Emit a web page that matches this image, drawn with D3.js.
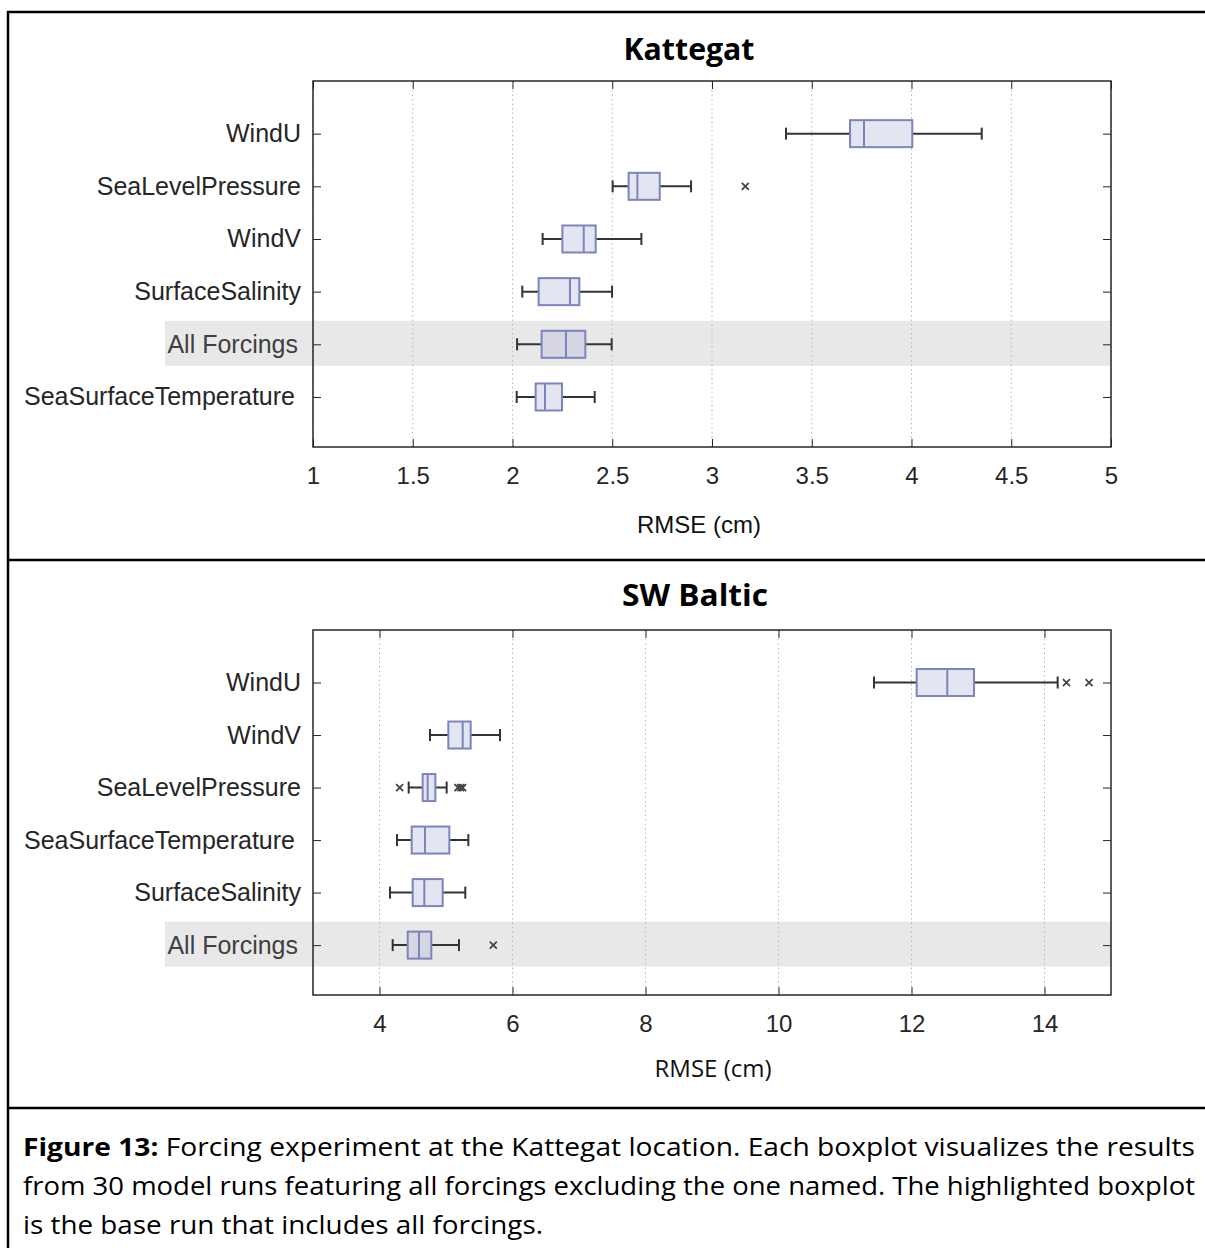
<!DOCTYPE html>
<html>
<head>
<meta charset="utf-8">
<script src="https://cdn.jsdelivr.net/npm/d3@7"></script>
<style>
  body { margin: 0; background: #fff; }
  svg { display: block; }
</style>
</head>
<body>
<svg id="fig"></svg>
<script>
// Kattegat panel
var katCategories = ["WindU", "SeaLevelPressure", "WindV", "SurfaceSalinity", "All Forcings", "SeaSurfaceTemperature"];
var katLow    = [3.371, 2.502, 2.151, 2.049, 2.023, 2.021];
var katQ1     = [3.692, 2.582, 2.250, 2.131, 2.146, 2.116];
var katMedian = [3.762, 2.626, 2.357, 2.288, 2.268, 2.163];
var katQ3     = [4.004, 2.738, 2.417, 2.335, 2.365, 2.248];
var katHigh   = [4.352, 2.895, 2.646, 2.499, 2.497, 2.412];
var katOutliers = [[], [3.167], [], [], [], []];
var katTicks = [1, 1.5, 2, 2.5, 3, 3.5, 4, 4.5, 5];

// SW Baltic panel
var swbCategories = ["WindU", "WindV", "SeaLevelPressure", "SeaSurfaceTemperature", "SurfaceSalinity", "All Forcings"];
var swbLow    = [11.436, 4.759, 4.439, 4.263, 4.158, 4.198];
var swbQ1     = [12.078, 5.035, 4.649, 4.484, 4.499, 4.424];
var swbMedian = [12.538, 5.251, 4.724, 4.684, 4.674, 4.594];
var swbQ3     = [12.940, 5.371, 4.840, 5.050, 4.950, 4.779];
var swbHigh   = [14.198, 5.812, 5.010, 5.336, 5.290, 5.195];
var swbOutliers = [[14.33, 14.67], [], [4.303, 5.18, 5.22, 5.25], [], [], [5.711]];
var swbTicks = [4, 6, 8, 10, 12, 14];

var highlight = "All Forcings";

var W = 1205, H = 1248;
var svg = d3.select("#fig").attr("width", W).attr("height", H);

// figure frame
svg.append("line").attr("x1", 8).attr("x2", 8).attr("y1", 11).attr("y2", H)
    .attr("stroke", "#000").attr("stroke-width", 2.5);
[12, 560, 1108].forEach(function (y) {
    svg.append("line").attr("x1", 7).attr("x2", W).attr("y1", y).attr("y2", y)
        .attr("stroke", "#000").attr("stroke-width", 2.5);
});

function drawPanel(opt) {
    var left = 313, right = 1111;
    var top = opt.top, bottom = opt.bottom;

    var x = d3.scaleLinear().domain(opt.domain).range([left, right]);
    var y = d3.scaleLinear().domain([0, 6.95]).range([top, bottom]);
    var g = svg.append("g");

    // highlight band
    var hi = opt.categories.indexOf(highlight);
    g.append("rect")
        .attr("x", 165).attr("width", right - 165)
        .attr("y", y(hi + 1) - 23.5).attr("height", 45)
        .attr("fill", "#e8e8e8");

    // dotted grid
    g.selectAll(".grid").data(opt.ticks).enter().append("line")
        .attr("x1", function (d) { return x(d); })
        .attr("x2", function (d) { return x(d); })
        .attr("y1", top).attr("y2", bottom)
        .attr("stroke", "#b8b8b8").attr("stroke-width", 1)
        .attr("stroke-dasharray", "1.5,3");

    // axes via d3.axis, ticks inward
    var xAxis = g.append("g").attr("transform", "translate(0," + bottom + ")")
        .call(d3.axisBottom(x).tickValues(opt.ticks).tickSizeInner(-8).tickSizeOuter(0).tickPadding(20)
            .tickFormat(d3.format("")));
    xAxis.select(".domain").remove();
    xAxis.selectAll("line").attr("stroke", "#262626");
    xAxis.selectAll("text").attr("font-family", "Liberation Sans, Arial, sans-serif")
        .attr("font-size", 24).attr("fill", "#262626");

    var xTop = g.append("g").attr("transform", "translate(0," + top + ")")
        .call(d3.axisTop(x).tickValues(opt.ticks).tickSizeInner(-8).tickSizeOuter(0).tickFormat(""));
    xTop.select(".domain").remove();
    xTop.selectAll("line").attr("stroke", "#262626");

    var cats = opt.categories.map(function (c, i) { return i + 1; });
    var yAxis = g.append("g").attr("transform", "translate(" + left + ",0)")
        .call(d3.axisLeft(y).tickValues(cats).tickSizeInner(-8).tickSizeOuter(0).tickPadding(12)
            .tickFormat(function (d) { return opt.categories[d - 1]; }));
    yAxis.select(".domain").remove();
    yAxis.selectAll("line").attr("stroke", "#262626");
    yAxis.selectAll("text").attr("font-family", "Liberation Sans, Arial, sans-serif")
        .attr("font-size", 25)
        .attr("dx", function (d) {
            var c = opt.categories[d - 1];
            return c === "All Forcings" ? -3 : (c === "SeaSurfaceTemperature" ? -6 : 0);
        })
        .attr("fill", function (d) { return opt.categories[d - 1] === highlight ? "#404040" : "#262626"; });

    var yRight = g.append("g").attr("transform", "translate(" + right + ",0)")
        .call(d3.axisRight(y).tickValues(cats).tickSizeInner(-8).tickSizeOuter(0).tickFormat(""));
    yRight.select(".domain").remove();
    yRight.selectAll("line").attr("stroke", "#262626");

    // frame
    g.append("rect").attr("x", left).attr("y", top)
        .attr("width", right - left).attr("height", bottom - top)
        .attr("fill", "none").attr("stroke", "#262626").attr("stroke-width", 1.5);

    // boxes
    var rows = opt.categories.map(function (c, i) {
        return { cat: c, i: i, low: opt.low[i], q1: opt.q1[i], med: opt.median[i],
                 q3: opt.q3[i], high: opt.high[i], out: opt.outliers[i] };
    });
    var bh = 27, cap = 6;
    var box = g.selectAll(".box").data(rows).enter().append("g")
        .attr("transform", function (d) { return "translate(0," + y(d.i + 1) + ")"; });

    box.append("line")
        .attr("x1", function (d) { return x(d.low); })
        .attr("x2", function (d) { return x(d.high); })
        .attr("stroke", "#333").attr("stroke-width", 2);
    box.append("line")
        .attr("x1", function (d) { return x(d.low); }).attr("x2", function (d) { return x(d.low); })
        .attr("y1", -cap).attr("y2", cap).attr("stroke", "#333").attr("stroke-width", 2);
    box.append("line")
        .attr("x1", function (d) { return x(d.high); }).attr("x2", function (d) { return x(d.high); })
        .attr("y1", -cap).attr("y2", cap).attr("stroke", "#333").attr("stroke-width", 2);
    box.append("rect")
        .attr("x", function (d) { return x(d.q1); })
        .attr("width", function (d) { return x(d.q3) - x(d.q1); })
        .attr("y", -bh / 2).attr("height", bh)
        .attr("fill", function (d) { return d.cat === highlight ? "#d5d6e1" : "#e3e5f0"; })
        .attr("stroke", "#7c84bd").attr("stroke-width", 2);
    box.append("line")
        .attr("x1", function (d) { return x(d.med); }).attr("x2", function (d) { return x(d.med); })
        .attr("y1", -bh / 2).attr("y2", bh / 2)
        .attr("stroke", "#7c84bd").attr("stroke-width", 2);

    box.each(function (d) {
        var sel = d3.select(this);
        d.out.forEach(function (v) {
            var cx = x(v), s = 3.5;
            sel.append("path")
                .attr("d", "M" + (cx - s) + "," + (-s) + "L" + (cx + s) + "," + s +
                           "M" + (cx - s) + "," + s + "L" + (cx + s) + "," + (-s))
                .attr("stroke", "#444").attr("stroke-width", 1.8);
        });
    });

    // title and x label
    svg.append("text").attr("x", opt.titleX).attr("y", opt.titleY)
        .attr("text-anchor", "middle")
        .attr("font-family", "Open Sans, sans-serif").attr("font-weight", "bold")
        .attr("font-size", 30).attr("fill", "#000")
        .attr("textLength", opt.titleLen).attr("lengthAdjust", "spacingAndGlyphs")
        .text(opt.title);
    svg.append("text").attr("x", opt.labelX).attr("y", opt.labelY)
        .attr("text-anchor", "middle")
        .attr("font-family", opt.labelFont).attr("font-size", 24).attr("fill", "#111")
        .text("RMSE (cm)");
}

drawPanel({
    top: 81, bottom: 447, domain: [1, 5], ticks: katTicks,
    categories: katCategories, low: katLow, q1: katQ1, median: katMedian,
    q3: katQ3, high: katHigh, outliers: katOutliers,
    title: "Kattegat", titleX: 689, titleY: 60, titleLen: 131,
    labelX: 699, labelY: 533, labelFont: "Liberation Sans, Arial, sans-serif"
});

drawPanel({
    top: 630, bottom: 995, domain: [3, 15], ticks: swbTicks,
    categories: swbCategories, low: swbLow, q1: swbQ1, median: swbMedian,
    q3: swbQ3, high: swbHigh, outliers: swbOutliers,
    title: "SW Baltic", titleX: 695, titleY: 606, titleLen: 146,
    labelX: 713, labelY: 1077, labelFont: "Open Sans, sans-serif"
});

// caption
var cap = svg.append("g").attr("font-family", "Open Sans, sans-serif").attr("font-size", 25).attr("fill", "#000");
var l1 = cap.append("text").attr("x", 23).attr("y", 1156)
    .attr("textLength", 1172).attr("lengthAdjust", "spacingAndGlyphs");
l1.append("tspan").attr("font-weight", "bold").text("Figure 13:");
l1.append("tspan").text(" Forcing experiment at the Kattegat location. Each boxplot visualizes the results");
cap.append("text").attr("x", 23).attr("y", 1195)
    .attr("textLength", 1172).attr("lengthAdjust", "spacingAndGlyphs")
    .text("from 30 model runs featuring all forcings excluding the one named. The highlighted boxplot");
cap.append("text").attr("x", 23).attr("y", 1234)
    .attr("textLength", 520).attr("lengthAdjust", "spacingAndGlyphs")
    .text("is the base run that includes all forcings.");
</script>
</body>
</html>
